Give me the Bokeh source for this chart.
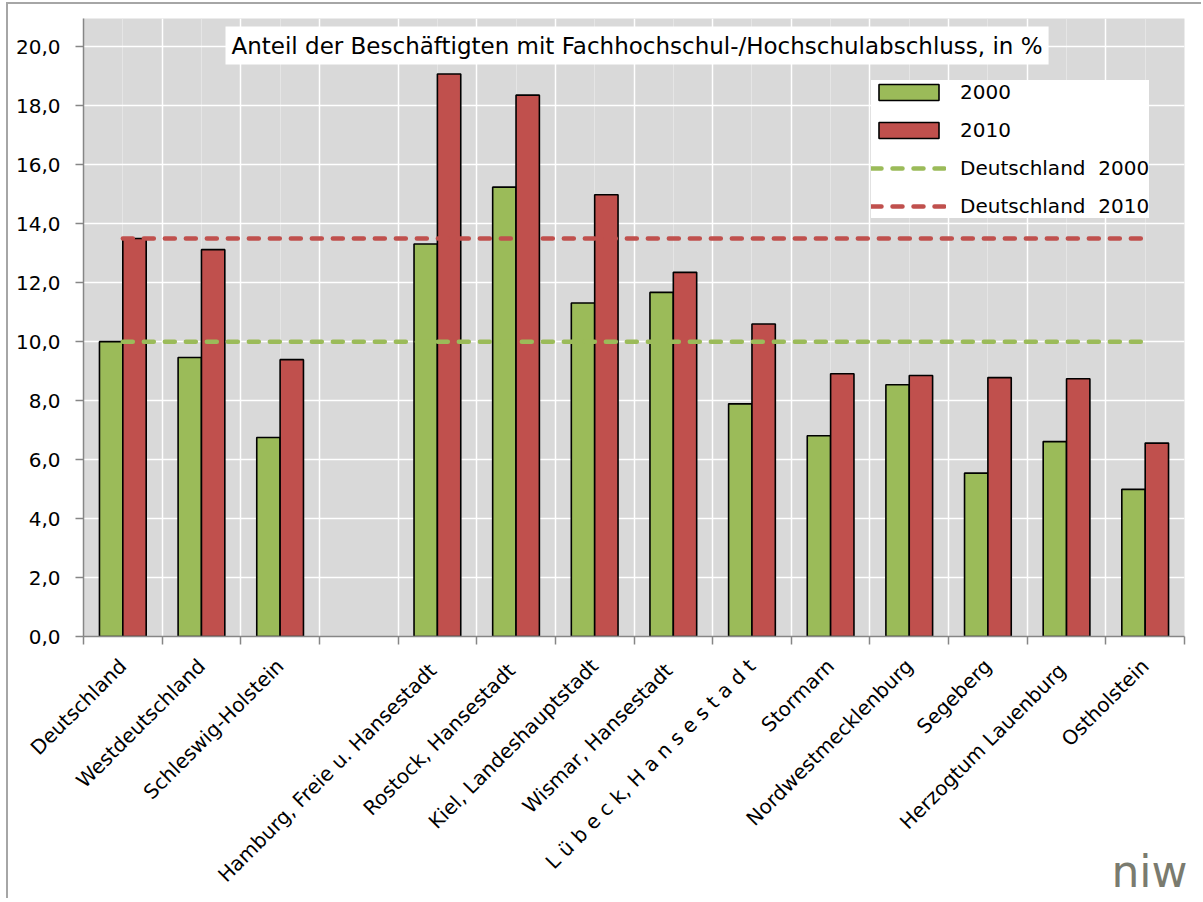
from math import pi

from bokeh.plotting import figure
from bokeh.models import (FactorRange, Range1d, LinearAxis, CategoricalAxis,
                          FixedTicker, SingleIntervalTicker, CustomJSTickFormatter,
                          Grid, Label, ColumnDataSource)
from bokeh.transform import dodge
from bokeh.embed import file_html
from bokeh.resources import INLINE

# ---------------- data ----------------
regions = ["Deutschland", "Westdeutschland", "Schleswig-Holstein",
           "Hamburg,  Freie u. Hansestadt", "Rostock,  Hansestadt",
           "Kiel, Landeshauptstadt", "Wismar,  Hansestadt",
           "L ü b e c k, H a n s e s t a d t", "Stormarn",
           "Nordwestmecklenburg", "Segeberg", "Herzogtum  Lauenburg",
           "Ostholstein"]
gap_slot = " "
slots = regions[:3] + [gap_slot] + regions[3:]

v2000 = [10.0, 9.46, 6.75, 13.31, 15.24, 11.31, 11.67, 7.89, 6.81, 8.54, 5.54, 6.61, 4.99]
v2010 = [13.50, 13.12, 9.39, 19.08, 18.36, 14.98, 12.35, 10.60, 8.91, 8.85, 8.78, 8.74, 6.56]

series_labels = ["2000", "2010", "Deutschland  2000", "Deutschland  2010"]
title_text = "Anteil der Beschäftigten mit Fachhochschul-/Hochschulabschluss, in %"
logo_text = "niw"

GREEN = "#9bbb59"
RED = "#c0504d"
AXIS = "#868686"
FONT = "DejaVu Sans"

src = ColumnDataSource(dict(region=regions, v2000=v2000, v2010=v2010))

p = figure(x_range=FactorRange(factors=slots), y_range=Range1d(0, 20.96),
           width=1195, height=896, output_backend="svg", toolbar_location=None,
           x_axis_location=None,
           min_border_left=75, min_border_right=19, min_border_top=14,
           min_border_bottom=263)
p.margin = (2, 0, 0, 6)
p.styles = {"border-left": "2px solid #a6a6a6", "border-top": "2px solid #a6a6a6"}
p.background_fill_color = "#d9d9d9"
p.border_fill_color = "white"
p.outline_line_color = None

# bars
bw = 0.297
p.vbar(x=dodge("region", -bw / 2, range=p.x_range), top="v2000", width=bw,
       source=src, fill_color=GREEN, line_color="black", line_width=1.6,
       legend_label=series_labels[0])
p.vbar(x=dodge("region", bw / 2, range=p.x_range), top="v2010", width=bw,
       source=src, fill_color=RED, line_color="black", line_width=1.6,
       legend_label=series_labels[1])

# Deutschland reference lines
p.segment(x0=[regions[0]], x1=[regions[-1]], y0=[v2000[0]], y1=[v2000[0]],
          line_color=GREEN, line_width=4.5, line_dash="10 11", line_cap="round",
          legend_label=series_labels[2])
p.segment(x0=[regions[0]], x1=[regions[-1]], y0=[v2010[0]], y1=[v2010[0]],
          line_color=RED, line_width=4.5, line_dash="10 11", line_cap="round",
          legend_label=series_labels[3])

# y axis
ya = p.yaxis[0]
ya.ticker = SingleIntervalTicker(interval=2, num_minor_ticks=0)
ya.formatter = CustomJSTickFormatter(code="return tick.toFixed(1).replace('.', ',');")
ya.axis_line_color = AXIS
ya.axis_line_width = 1.5
ya.major_tick_line_color = AXIS
ya.major_tick_line_width = 1.5
ya.major_tick_out = 8
ya.major_tick_in = 0
ya.minor_tick_line_color = None
ya.major_label_text_font = FONT
ya.major_label_text_font_size = "20px"
ya.major_label_text_color = "black"
ya.major_label_standoff = 15
p.ygrid.grid_line_color = "white"
p.ygrid.grid_line_width = 1.5

# x axis: ticks at slot boundaries, names on a categorical axis below
bounds = list(range(len(slots) + 1))
num_axis = LinearAxis(ticker=FixedTicker(ticks=bounds),
                      formatter=CustomJSTickFormatter(code="return '';"),
                      axis_line_color=AXIS, axis_line_width=1.5,
                      major_tick_line_color=AXIS, major_tick_line_width=1.5,
                      major_tick_out=8, major_tick_in=0,
                      minor_tick_line_color=None,
                      major_label_text_font_size="0px", major_label_standoff=0)
p.add_layout(num_axis, "below")
cat_axis = CategoricalAxis(axis_line_color=None, major_tick_line_color=None,
                           minor_tick_line_color=None,
                           major_label_orientation=pi / 4,
                           major_label_text_font=FONT,
                           major_label_text_font_size="20px",
                           major_label_text_color="black",
                           major_label_standoff=12)
# logo as the end-aligned label of the category axis (padded so it ends at the frame edge)
cat_axis.axis_label = logo_text + "\u00a0" * 5
cat_axis.axis_label_align = "end"
cat_axis.axis_label_standoff = -52
cat_axis.axis_label_text_font = FONT
cat_axis.axis_label_text_font_size = "44px"
cat_axis.axis_label_text_font_style = "normal"
cat_axis.axis_label_text_color = "#7a7b6f"
p.add_layout(cat_axis, "below")
p.add_layout(Grid(dimension=0, ticker=FixedTicker(ticks=bounds),
                  grid_line_color="white", grid_line_width=1.5), "center")

# title inside plot area
p.add_layout(Label(x=142, y=591, x_units="screen", y_units="screen", text=title_text,
                   text_font=FONT, text_font_size="23px", text_color="black",
                   text_baseline="middle", text_align="left",
                   background_fill_color="white", padding=6))

# legend
lg = p.legend[0]
lg.location = (788, 418)
lg.margin = 0
lg.padding = 7
lg.spacing = 14
lg.glyph_width = 75
lg.glyph_height = 20
lg.label_standoff = 14
lg.label_text_font = FONT
lg.label_text_font_size = "20px"
lg.label_text_color = "black"
lg.border_line_color = None
lg.background_fill_color = "white"
lg.background_fill_alpha = 1.0

open("out.html", "w").write(file_html(p, INLINE))
